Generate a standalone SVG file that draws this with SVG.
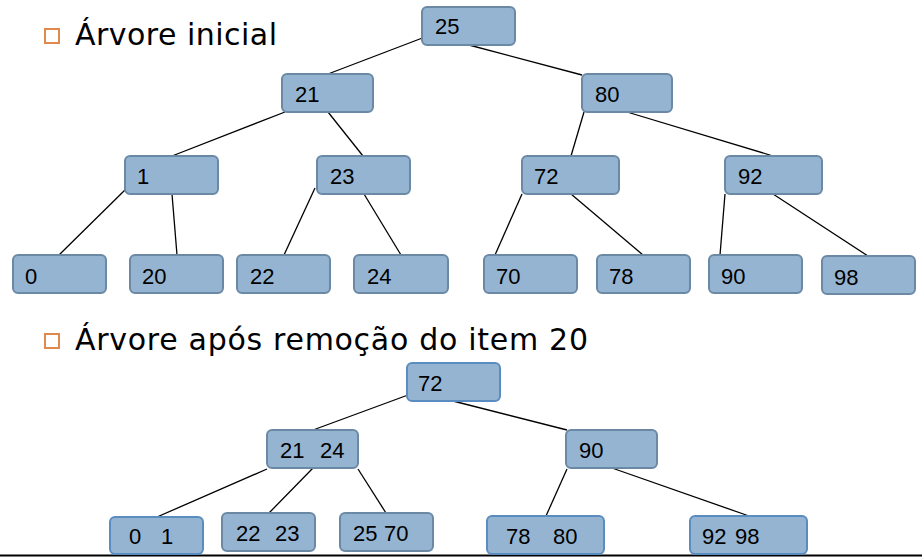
<svg xmlns="http://www.w3.org/2000/svg" width="922" height="557" viewBox="0 0 922 557">
<style>
.n rect{fill:#95b4d1;stroke:#6b89a5;stroke-width:2}
.b rect{stroke:#5a8cc0}
.n text{font-family:"Liberation Sans",Arial,sans-serif;font-size:22px;fill:#000}
.t{font-family:"DejaVu Sans","Liberation Sans",sans-serif;font-size:30px;fill:#000}
.bul{fill:none;stroke:#e0894f;stroke-width:2}
#edges line{stroke:#000;stroke-width:1.3}
</style>
<rect width="922" height="557" fill="#fff"/>
<g id="titles">
<rect class="bul" x="45" y="29" width="14" height="14"/>
<text class="t" x="75" y="45" textLength="202" lengthAdjust="spacing">Árvore inicial</text>
<rect class="bul" x="45" y="334" width="14" height="14"/>
<text class="t" x="75" y="350" textLength="513" lengthAdjust="spacing">Árvore após remoção do item 20</text>
</g>
<g id="edges">
<line x1="425" y1="37" x2="328" y2="74"/>
<line x1="469" y1="45" x2="582" y2="75"/>
<line x1="285" y1="112" x2="172" y2="156"/>
<line x1="328" y1="112" x2="363" y2="156"/>
<line x1="584" y1="112" x2="571" y2="156"/>
<line x1="627" y1="112" x2="773" y2="156"/>
<line x1="127" y1="188" x2="59" y2="255"/>
<line x1="172" y1="194" x2="177" y2="255"/>
<line x1="315" y1="188" x2="284" y2="255"/>
<line x1="364" y1="194" x2="401" y2="255"/>
<line x1="522" y1="194" x2="495" y2="255"/>
<line x1="571" y1="194" x2="643" y2="255"/>
<line x1="725" y1="194" x2="720" y2="255"/>
<line x1="773" y1="194" x2="868" y2="256"/>
<line x1="408" y1="395" x2="313" y2="430"/>
<line x1="453" y1="401" x2="567" y2="430"/>
<line x1="267" y1="469" x2="157" y2="517"/>
<line x1="313" y1="468" x2="269" y2="513"/>
<line x1="358" y1="469" x2="386" y2="513"/>
<line x1="567" y1="469" x2="546" y2="516"/>
<line x1="612" y1="468" x2="749" y2="516"/>
<line x1="0" y1="555.5" x2="922" y2="555.5" style="stroke-width:2"/>
</g>
<g id="n25" class="n"><rect x="422" y="7" width="93" height="38" rx="5"/><text x="435" y="34">25</text></g>
<g id="n21" class="n"><rect x="282" y="74" width="91" height="38" rx="5"/><text x="295" y="102">21</text></g>
<g id="n80" class="n"><rect x="582" y="74" width="90" height="38" rx="5"/><text x="595" y="102">80</text></g>
<g id="n1" class="n"><rect x="125" y="156" width="93" height="38" rx="5"/><text x="137" y="184">1</text></g>
<g id="n23" class="n"><rect x="317" y="156" width="93" height="38" rx="5"/><text x="330" y="184">23</text></g>
<g id="n72" class="n"><rect x="522" y="156" width="97" height="38" rx="5"/><text x="534" y="184">72</text></g>
<g id="n92" class="n"><rect x="725" y="156" width="97" height="38" rx="5"/><text x="738" y="184">92</text></g>
<g id="n0" class="n"><rect x="13" y="255" width="93" height="38" rx="5"/><text x="25" y="284">0</text></g>
<g id="n20" class="n"><rect x="130" y="255" width="93" height="38" rx="5"/><text x="142" y="284">20</text></g>
<g id="n22" class="n"><rect x="237" y="255" width="93" height="38" rx="5"/><text x="250" y="284">22</text></g>
<g id="n24" class="n"><rect x="354" y="255" width="94" height="38" rx="5"/><text x="367" y="284">24</text></g>
<g id="n70" class="n"><rect x="484" y="255" width="93" height="38" rx="5"/><text x="496" y="284">70</text></g>
<g id="n78" class="n"><rect x="597" y="255" width="93" height="38" rx="5"/><text x="609" y="284">78</text></g>
<g id="n90" class="n"><rect x="709" y="255" width="93" height="38" rx="5"/><text x="721" y="284">90</text></g>
<g id="n98" class="n"><rect x="822" y="256" width="93" height="38" rx="5"/><text x="834" y="285">98</text></g>
<g id="m72" class="n b"><rect x="407" y="363" width="93" height="38" rx="5"/><text x="418" y="391">72</text></g>
<g id="m2124" class="n"><rect x="267" y="430" width="91" height="38" rx="5"/><text y="458"><tspan x="280">21</tspan> <tspan x="320">24</tspan></text></g>
<g id="m90" class="n"><rect x="566" y="430" width="91" height="38" rx="5"/><text x="579" y="458">90</text></g>
<g id="m01" class="n b"><rect x="110" y="517" width="93" height="37" rx="5"/><text y="544"><tspan x="129">0</tspan> <tspan x="161">1</tspan></text></g>
<g id="m2223" class="n"><rect x="222" y="513" width="93" height="38" rx="5"/><text y="541"><tspan x="236">22</tspan> <tspan x="275">23</tspan></text></g>
<g id="m2570" class="n"><rect x="340" y="513" width="93" height="38" rx="5"/><text y="541"><tspan x="353">25</tspan> <tspan x="384">70</tspan></text></g>
<g id="m7880" class="n b"><rect x="487" y="516" width="117" height="38" rx="5"/><text y="544"><tspan x="506">78</tspan> <tspan x="553">80</tspan></text></g>
<g id="m9298" class="n b"><rect x="690" y="516" width="117" height="38" rx="5"/><text y="544"><tspan x="702">92</tspan> <tspan x="735">98</tspan></text></g>
</svg>
